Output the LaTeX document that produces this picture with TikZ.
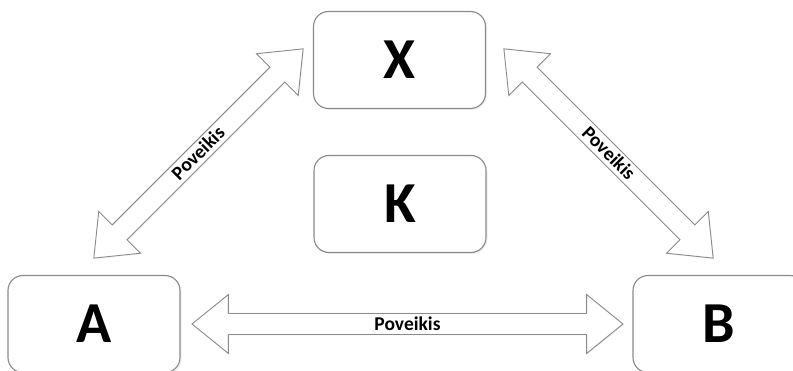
\documentclass[tikz,border=0pt]{standalone}
\usepackage{fontspec}
\setmainfont{Carlito}
\usetikzlibrary{shapes.arrows,calc,shadows}
\definecolor{edgegray}{HTML}{8A8A8A}
\begin{document}
\begin{tikzpicture}[x=1pt,y=1pt,
  box/.style={draw=edgegray, line width=1.1pt, rounded corners=15pt, fill=white,
    minimum width=172pt, minimum height=97pt, inner sep=0pt,
    font=\fontsize{58}{58}\selectfont\bfseries,
    drop shadow={opacity=0.12, shadow xshift=1.5pt, shadow yshift=-1.5pt}},
  darrow/.style={double arrow, draw=edgegray, line width=0.9pt, fill=white,
    minimum width=59pt, double arrow head extend=13.5pt,
    double arrow tip angle=78, inner sep=0pt, text height=13pt, text depth=1pt,
    font=\fontsize{19.5}{20}\selectfont\bfseries,
    drop shadow={opacity=0.10, shadow xshift=1pt, shadow yshift=-1pt}}]
\useasboundingbox (0,0) rectangle (793,370);
\node[box] (X) at (399.5,310) {X};
\node[box] (K) at (400,166) {K};
\node[box] (A) at (94,46) {A};
\node[box] (B) at (719,46) {B};
\coordinate (l1) at ($(A.north)+(0,17)$);
\coordinate (l2) at ($(X.west)+(-10,11)$);
\coordinate (r1) at ($(X.east)+(18,11)$);
\coordinate (r2) at ($(B.north)+(-6,17)$);
\coordinate (h1) at ($(A.east)+(12,0)$);
\coordinate (h2) at ($(B.west)+(-10,0)$);
\path (l1) -- (l2) node[midway, sloped, darrow, minimum height=296pt] (LA) {Poveikis};
\path (r1) -- (r2) node[midway, sloped, darrow, minimum height=296pt] (RA) {Poveikis};
\path (h1) -- (h2) node[midway, sloped, darrow, minimum height=431pt] (HA) {Poveikis};
\end{tikzpicture}
\end{document}
